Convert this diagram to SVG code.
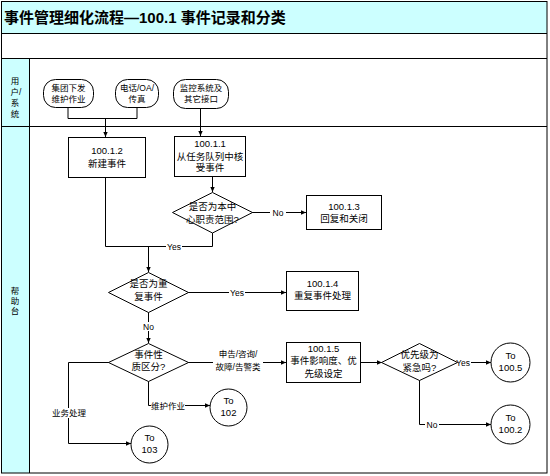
<svg xmlns="http://www.w3.org/2000/svg" width="550" height="476" viewBox="0 0 550 476">
<defs>
<marker id="ah" markerWidth="6" markerHeight="6" refX="5" refY="3" orient="auto" markerUnits="userSpaceOnUse">
<path d="M0,0.8 L5,3 L0,5.2 Z" fill="#000"/>
</marker>
<style>
.t{font-family:"Liberation Sans","Noto Sans CJK SC",sans-serif;font-size:9.5px;fill:#000;text-anchor:middle}
.l{font-family:"Liberation Sans","Noto Sans CJK SC",sans-serif;font-size:8.5px;fill:#000;text-anchor:middle}
.s{fill:#fff;stroke:#000;stroke-width:1}
.c{fill:none;stroke:#000;stroke-width:1;marker-end:url(#ah)}
.n{fill:none;stroke:#000;stroke-width:1}
</style>
</defs>
<rect x="0" y="0" width="550" height="476" fill="#fff"/>
<!-- frame -->
<g id="frame">
<rect x="1.5" y="1.5" width="545.5" height="32" fill="#CCFFFF" stroke="none"/>
<rect x="1.5" y="58.5" width="27.5" height="414.5" fill="#CCFFFF" stroke="none"/>
<rect x="1.5" y="1.5" width="545.5" height="471.5" fill="none" stroke="#000"/>
<line x1="1.5" y1="33.5" x2="547" y2="33.5" stroke="#000"/>
<line x1="1.5" y1="58.5" x2="547" y2="58.5" stroke="#000"/>
<line x1="1.5" y1="126.5" x2="547" y2="126.5" stroke="#000"/>
<line x1="29.5" y1="58.5" x2="29.5" y2="473" stroke="#000"/>
<text x="4" y="23" style="font-family:'Liberation Sans','Noto Sans CJK SC',sans-serif;font-size:15px;font-weight:bold">事件管理细化流程—100.1 事件记录和分类</text>
<text class="l" x="15" y="84">用</text>
<text class="l" x="16" y="95">户/</text>
<text class="l" x="15" y="106">系</text>
<text class="l" x="15" y="117">统</text>
<text class="l" x="15" y="294">帮</text>
<text class="l" x="15" y="304">助</text>
<text class="l" x="15" y="314">台</text>
</g>
<!-- connectors -->
<g id="connectors">
<polyline class="n" points="68,107 68,118.5 137,118.5 137,107"/>
<polyline class="c" points="105.5,118.5 105.5,137"/>
<polyline class="c" points="200.5,109 200.5,136"/>
<polyline class="c" points="212.5,177 212.5,192"/>
<polyline class="c" points="252,212.5 306,212.5"/>
<polyline class="n" points="212.5,233 212.5,246.5 105.5,246.5 105.5,178"/>
<polyline class="c" points="148.5,246.5 148.5,272"/>
<polyline class="c" points="188,292.5 286,292.5"/>
<polyline class="c" points="148.5,312 148.5,343"/>
<polyline class="c" points="188,362.5 286,362.5"/>
<polyline class="c" points="360,362.5 382,362.5"/>
<polyline class="c" points="457,362.5 491,362.5"/>
<polyline class="c" points="419.5,380 419.5,424.5 491,424.5"/>
<polyline class="c" points="148.5,381 148.5,405.5 210,405.5"/>
<polyline class="c" points="109,362.5 68.5,362.5 68.5,443.5 131,443.5"/>
<rect x="270" y="208" width="16" height="9" fill="#fff"/>
<text class="l" x="278" y="215.5">No</text>
<rect x="166" y="242" width="16" height="9" fill="#fff"/>
<text class="l" x="174" y="249.5">Yes</text>
<rect x="229" y="288" width="16" height="9" fill="#fff"/>
<text class="l" x="237" y="295.5">Yes</text>
<rect x="142" y="322" width="13" height="9" fill="#fff"/>
<text class="l" x="148.5" y="329.5">No</text>
<rect x="213" y="347" width="50" height="24" fill="#fff"/>
<text class="l" x="238" y="357">申告/咨询/</text>
<text class="l" x="238" y="370">故障/告警类</text>
<rect x="455" y="358" width="16" height="9" fill="#fff"/>
<text class="l" x="463" y="365.5">Yes</text>
<rect x="425" y="420" width="14" height="9" fill="#fff"/>
<text class="l" x="432" y="427.5">No</text>
<rect x="151" y="401" width="34" height="9" fill="#fff"/>
<text class="l" x="168" y="408.5">维护作业</text>
<rect x="52" y="408" width="34" height="10" fill="#fff"/>
<text class="l" x="69" y="416">业务处理</text>
</g>
<!-- nodes -->
<g id="n_src1">
<rect class="s" x="43.5" y="79.5" width="50" height="28" rx="12"/>
<text class="l" x="68.5" y="91">集团下发</text>
<text class="l" x="68.5" y="102">维护作业</text>
</g>
<g id="n_src2">
<rect class="s" x="115.5" y="79.5" width="43" height="28" rx="12"/>
<text class="l" x="137" y="91">电话/OA/</text>
<text class="l" x="137" y="102">传真</text>
</g>
<g id="n_src3">
<rect class="s" x="173.5" y="79.5" width="55" height="29" rx="12"/>
<text class="l" x="201" y="91">监控系统及</text>
<text class="l" x="201" y="102">其它接口</text>
</g>
<g id="n_1002">
<rect class="s" x="68.5" y="137.5" width="77" height="40"/>
<text class="t" x="107" y="154">100.1.2</text>
<text class="t" x="107" y="166.5">新建事件</text>
</g>
<g id="n_1001">
<rect class="s" x="174.5" y="136.5" width="71" height="40"/>
<text class="t" x="210" y="146.5">100.1.1</text>
<text class="t" x="210" y="159.5">从任务队列中核</text>
<text class="t" x="210" y="171">受事件</text>
</g>
<g id="d_scope">
<polygon class="s" points="212.5,192.5 252.5,212.5 212.5,233 172.5,212.5"/>
<text class="t" x="212.5" y="209.5">是否为本中</text>
<text class="t" x="212.5" y="222.5">心职责范围?</text>
</g>
<g id="n_1003">
<rect class="s" x="306.5" y="195.5" width="75" height="34"/>
<text class="t" x="344" y="209.5">100.1.3</text>
<text class="t" x="344" y="222">回复和关闭</text>
</g>
<g id="d_dup">
<polygon class="s" points="148.5,272.5 188.5,292.5 148.5,312.5 108.5,292.5"/>
<text class="t" x="148.5" y="286.5">是否为重</text>
<text class="t" x="148.5" y="299.5">复事件</text>
</g>
<g id="n_1004">
<rect class="s" x="286.5" y="271.5" width="72" height="39"/>
<text class="t" x="322.5" y="286.5">100.1.4</text>
<text class="t" x="322.5" y="299">重复事件处理</text>
</g>
<g id="d_type">
<polygon class="s" points="148.5,343.5 188.5,362.5 148.5,381.5 108.5,362.5"/>
<text class="t" x="148.5" y="357.5">事件性</text>
<text class="t" x="148.5" y="370">质区分?</text>
</g>
<g id="n_1005">
<rect class="s" x="286.5" y="342.5" width="74" height="40"/>
<text class="t" x="323.5" y="351.5">100.1.5</text>
<text class="t" x="323.5" y="363.5">事件影响度、优</text>
<text class="t" x="323.5" y="377">先级设定</text>
</g>
<g id="d_urgent">
<polygon class="s" points="419.5,343.5 457.5,362.5 419.5,380.5 381.5,362.5"/>
<text class="t" x="419.5" y="358">优先级为</text>
<text class="t" x="419.5" y="370.5">紧急吗?</text>
</g>
<g id="c_1005">
<circle class="s" cx="510.5" cy="362.5" r="19.5"/>
<text class="t" x="510.5" y="359">To</text>
<text class="t" x="510.5" y="371">100.5</text>
</g>
<g id="c_1002">
<circle class="s" cx="510.5" cy="424.5" r="19.5"/>
<text class="t" x="510.5" y="421">To</text>
<text class="t" x="510.5" y="433">100.2</text>
</g>
<g id="c_102">
<circle class="s" cx="228.5" cy="407.5" r="18.5"/>
<text class="t" x="228.5" y="404">To</text>
<text class="t" x="228.5" y="416">102</text>
</g>
<g id="c_103">
<circle class="s" cx="149.5" cy="444.5" r="18.5"/>
<text class="t" x="149.5" y="441">To</text>
<text class="t" x="149.5" y="453">103</text>
</g>
</svg>
